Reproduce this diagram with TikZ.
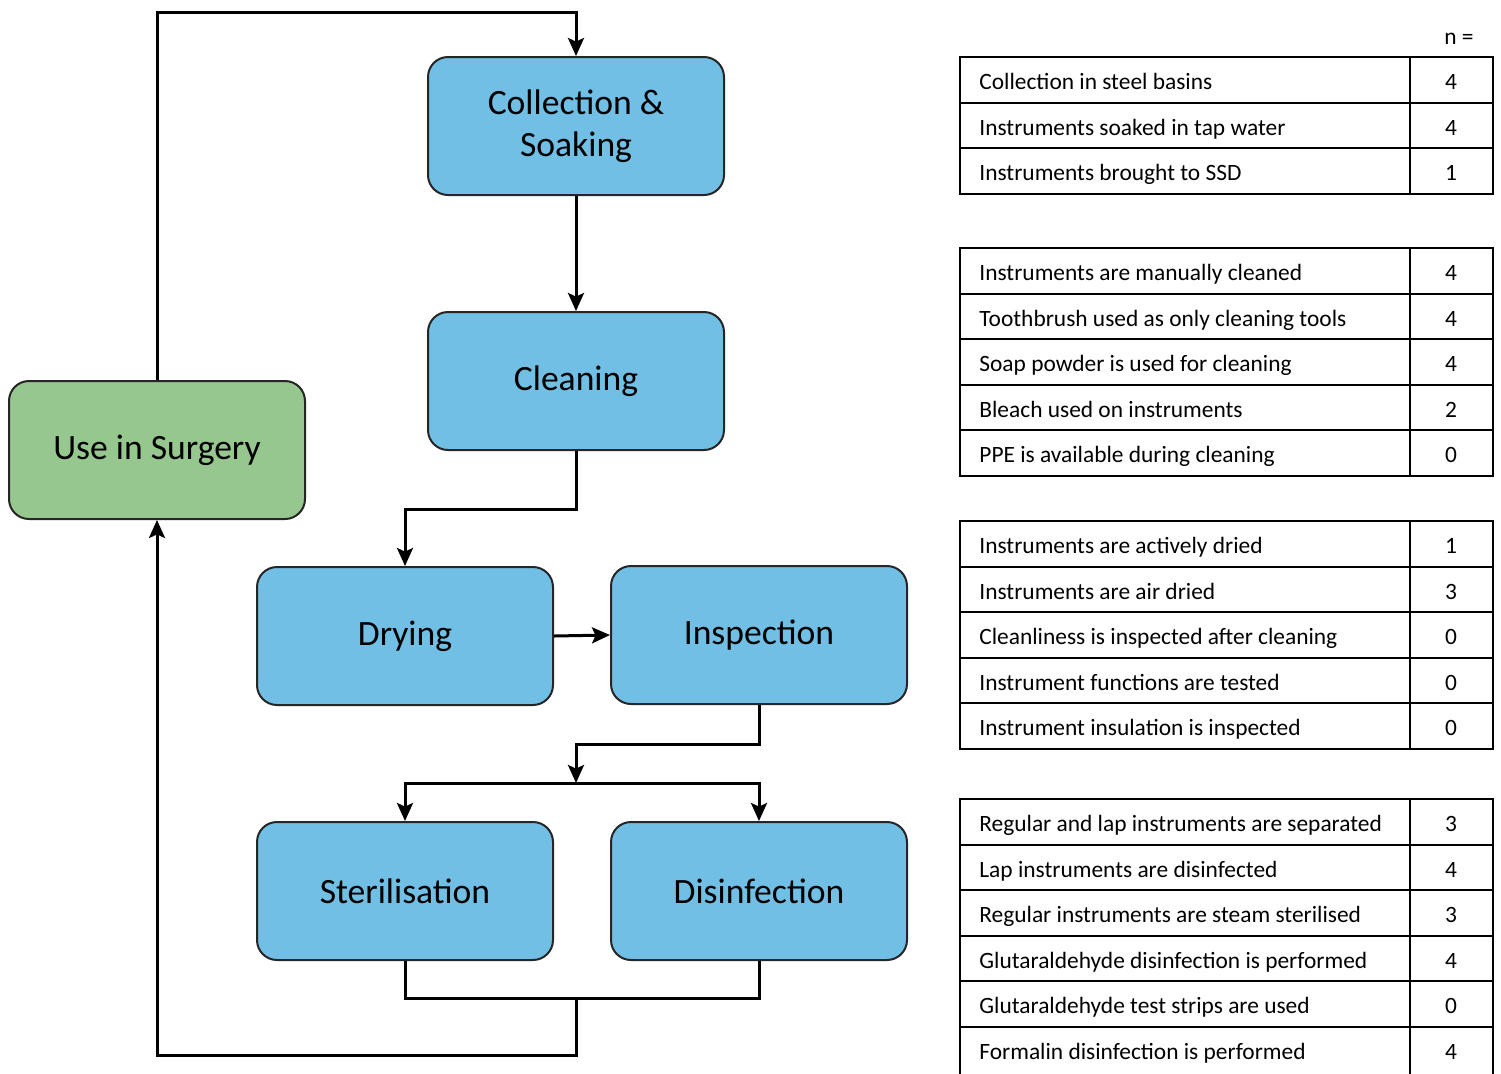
\documentclass[tikz,border=0pt]{standalone}
\usepackage{fontspec}
\setmainfont{Carlito}
\usetikzlibrary{arrows.meta}
\definecolor{boxblue}{RGB}{113,191,228}
\definecolor{boxgreen}{RGB}{150,199,142}
\begin{document}
\begin{tikzpicture}[x=0.5pt,y=-0.5pt,
  stage/.style={draw=black!85,line width=1pt,rounded corners=10pt,fill=boxblue,
    minimum width=148pt,minimum height=69pt,align=center,inner sep=0pt,
    font=\fontsize{17.8}{21}\selectfont},
  conn/.style={line width=1.5pt,draw=black},
  arr/.style={conn,-{Stealth[length=9pt,width=8pt,inset=1.8pt]}},
  cell/.style={draw=black,line width=1pt},
  ttext/.style={anchor=base west,inner sep=0pt,font=\fontsize{11.7}{14}\selectfont},
]
\useasboundingbox (0,0) rectangle (1501,1073);
\begin{scope}
\clip (0,0) rectangle (1501,1073);
% stages
\node[stage] (col) at (576,126) {Collection \&\\Soaking};
\node[stage] (cle) at (576,381) {Cleaning};
\node[stage,fill=boxgreen] (use) at (157,450) {Use in Surgery};
\node[stage] (dry) at (405,636) {Drying};
\node[stage] (ins) at (759,635) {Inspection};
\node[stage] (ste) at (405,891) {Sterilisation};
\node[stage] (dis) at (759,891) {Disinfection};
\coordinate (split) at (576,783);
\coordinate (merge) at (576,998);
% connectors
\draw[arr] (use.north) -- (157,12) -| (col.north);
\draw[arr] (col.south) -- (cle.north);
\draw[arr] (cle.south) -- (576,509) -| (dry.north);
\draw[arr] (dry.east) -- (ins.west);
\draw[arr] (ins.south) -- (759,744) -| (split);
\draw[arr] (split) -| (ste.north);
\draw[arr] (split) -| (dis.north);
\draw[conn] (ste.south) |- (merge) -| (dis.south);
\draw[arr] (merge) -- (576,1055) -| (use.south);
% tables
\node[ttext,anchor=base] (nlabel) at (1459,44) {n =};
\newcommand{\trow}[5]{%
  \draw[cell] (960,#1) rectangle (1410,#1+#5);
  \draw[cell] (1410,#1) rectangle (1493,#1+#5);
  \node[ttext] (#4) at (979,#1+32.5) {#2};
  \node[ttext,anchor=base] (#4n) at (1451,#1+32.5) {#3};
}
\trow{57}{Collection in steel basins}{4}{ra}{45.6}
\trow{102.6}{Instruments soaked in tap water}{4}{rb}{45.6}
\trow{148.2}{Instruments brought to SSD}{1}{rc}{45.6}
\trow{248}{Instruments are manually cleaned}{4}{rd}{45.6}
\trow{293.6}{Toothbrush used as only cleaning tools}{4}{re}{45.6}
\trow{339.2}{Soap powder is used for cleaning}{4}{rf}{45.6}
\trow{384.8}{Bleach used on instruments}{2}{rg}{45.6}
\trow{430.4}{PPE is available during cleaning}{0}{rh}{45.6}
\trow{521}{Instruments are actively dried}{1}{ri}{45.6}
\trow{566.6}{Instruments are air dried}{3}{rj}{45.6}
\trow{612.2}{Cleanliness is inspected after cleaning}{0}{rk}{45.6}
\trow{657.8}{Instrument functions are tested}{0}{rl}{45.6}
\trow{703.4}{Instrument insulation is inspected}{0}{rm}{45.6}
\trow{799}{Regular and lap instruments are separated}{3}{rn}{45.6}
\trow{844.6}{Lap instruments are disinfected}{4}{ro}{45.6}
\trow{890.2}{Regular instruments are steam sterilised}{3}{rp}{45.6}
\trow{935.8}{Glutaraldehyde disinfection is performed}{4}{rq}{45.6}
\trow{981.4}{Glutaraldehyde test strips are used}{0}{rr}{45.6}
\trow{1027}{Formalin disinfection is performed}{4}{rs}{55}
\end{scope}
\end{tikzpicture}
\end{document}
